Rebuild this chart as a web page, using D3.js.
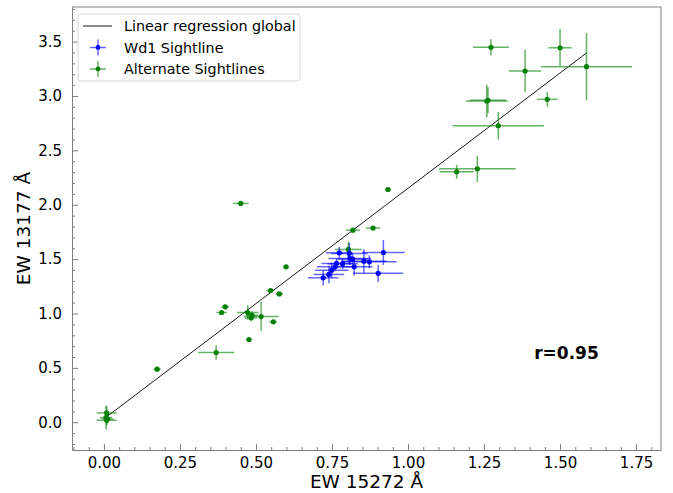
<!DOCTYPE html>
<html>
<head>
<meta charset="utf-8">
<script src="https://cdn.jsdelivr.net/npm/d3@7"></script>
<style>
  body { margin: 0; background: #fff; }
  text { font-family: "DejaVu Sans", sans-serif; }
</style>
</head>
<body>
<div id="chart-area"></div>
<script>
// Wd1 sightline (blue)
const wdX = [0.774, 0.807, 0.809, 0.818, 0.785, 0.919, 0.855, 0.873, 0.823, 0.902, 0.765, 0.760, 0.749, 0.740, 0.721]
const wdY = [1.558, 1.552, 1.506, 1.500, 1.457, 1.561, 1.481, 1.475, 1.429, 1.369, 1.460, 1.429, 1.398, 1.359, 1.328]
const wdXerr = [0.044, 0.06, 0.07, 0.05, 0.05, 0.07, 0.075, 0.09, 0.06, 0.082, 0.05, 0.06, 0.055, 0.05, 0.05]
const wdYerr = [0.055, 0.10, 0.06, 0.05, 0.05, 0.115, 0.11, 0.06, 0.08, 0.08, 0.05, 0.04, 0.07, 0.08, 0.07]

// alternate sightlines (green)
const altX = [0.009, 0.007, 0.009, 0.012, 0.175, 0.369, 0.387, 0.399, 0.450, 0.473, 0.487, 0.484, 0.517, 0.477, 0.548, 0.577,
    0.599, 0.557, 0.804, 0.819, 0.885, 0.934, 1.160, 1.228, 1.259, 1.263, 1.297, 1.273, 1.385, 1.458, 1.500, 1.587]
const altY = [0.086, 0.043, 0.018, 0.030, 0.488, 0.641, 1.009, 1.061, 2.012, 1.009, 0.984, 0.960, 0.972, 0.761, 1.211, 1.180,
    1.429, 0.923, 1.589, 1.766, 1.785, 2.140, 2.303, 2.330, 2.953, 2.960, 2.726, 3.447, 3.229, 2.969, 3.443, 3.269]
const altXerr = [0.033, 0.02, 0.033, 0.02, 0.012, 0.059, 0.017, 0.013, 0.026, 0.036, 0.02, 0.02, 0.058, 0.01, 0.013, 0.012,
    0.01, 0.013, 0.044, 0.023, 0.023, 0.01, 0.056, 0.126, 0.069, 0.06, 0.15, 0.059, 0.053, 0.034, 0.038, 0.15]
const altYerr = [0.06, 0.11, 0.05, 0.04, 0.015, 0.066, 0.02, 0.02, 0.02, 0.066, 0.04, 0.03, 0.134, 0.02, 0.015, 0.015,
    0.015, 0.015, 0.07, 0.015, 0.015, 0.015, 0.064, 0.12, 0.15, 0.12, 0.127, 0.075, 0.195, 0.067, 0.17, 0.31]

// global regression fit
const fitSlope = 2.12
const fitIntercept = 0.031
const rValue = 'r=0.95'

const xTicks = [0, 0.25, 0.5, 0.75, 1.0, 1.25, 1.5, 1.75]
const yTicks = [0, 0.5, 1.0, 1.5, 2.0, 2.5, 3.0, 3.5]

const canvas = { width: 673, height: 493 }
const margin = { left: 72, right: 12, top: 7, bottom: 43 }
const group = {
    width: canvas.width - margin.left - margin.right,
    height: canvas.height - margin.top - margin.bottom
}

const svg = d3.select('#chart-area')
    .append('svg')
    .attr('width', canvas.width)
    .attr('height', canvas.height)

const g = svg.append('g')
    .attr('transform', `translate(${margin.left},${margin.top})`)

const scaleX = d3.scaleLinear().domain([-0.105, 1.832]).range([0, group.width])
const scaleY = d3.scaleLinear().domain([-0.255, 3.818]).range([group.height, 0])

const spine = '#808080'

// minor ticks (inward)
const xMinor = d3.range(-0.1, 1.83, 0.05).filter(v => Math.abs(v / 0.25 - Math.round(v / 0.25)) > 0.01)
const yMinor = d3.range(-0.2, 3.81, 0.1).filter(v => Math.abs(v / 0.5 - Math.round(v / 0.5)) > 0.01)

g.append('g')
    .attr('transform', `translate(0,${group.height})`)
    .call(d3.axisBottom(scaleX).tickValues(xTicks).tickFormat(d3.format('.2f')).tickSizeInner(-6).tickSizeOuter(0).tickPadding(7))
g.append('g')
    .attr('transform', `translate(0,${group.height})`)
    .call(d3.axisBottom(scaleX).tickValues(xMinor).tickFormat('').tickSizeInner(-3).tickSizeOuter(0))
    .select('.domain').remove()

g.append('g')
    .call(d3.axisLeft(scaleY).tickValues(yTicks).tickFormat(d3.format('.1f')).tickSizeInner(-6).tickSizeOuter(0).tickPadding(10))
g.append('g')
    .call(d3.axisLeft(scaleY).tickValues(yMinor).tickFormat('').tickSizeInner(-3).tickSizeOuter(0))
    .select('.domain').remove()

g.selectAll('.tick line').attr('stroke', spine)
g.selectAll('.tick text').attr('font-size', 15).attr('fill', '#000')
g.selectAll('.domain').attr('stroke', spine)

// top/right spines
g.append('line').attr('x1', 0).attr('x2', group.width).attr('y1', 0).attr('y2', 0).attr('stroke', spine)
g.append('line').attr('x1', group.width).attr('x2', group.width).attr('y1', 0).attr('y2', group.height).attr('stroke', spine)

// regression line
const fitX = d3.extent(altX)
g.append('line')
    .attr('x1', scaleX(fitX[0])).attr('y1', scaleY(fitSlope * fitX[0] + fitIntercept))
    .attr('x2', scaleX(fitX[1])).attr('y2', scaleY(fitSlope * fitX[1] + fitIntercept))
    .attr('stroke', '#000').attr('stroke-width', 0.9)

function errorbars(xs, ys, xe, ye, color) {
    const pts = xs.map((x, i) => ({ x, y: ys[i], xe: xe[i], ye: ye[i] }))
    const eg = g.append('g').attr('stroke', color).attr('stroke-width', 1.5).attr('stroke-opacity', 0.6)
    eg.selectAll('.hx').data(pts).enter().append('line')
        .attr('x1', d => scaleX(d.x - d.xe)).attr('x2', d => scaleX(d.x + d.xe))
        .attr('y1', d => scaleY(d.y)).attr('y2', d => scaleY(d.y))
    eg.selectAll('.vy').data(pts).enter().append('line')
        .attr('x1', d => scaleX(d.x)).attr('x2', d => scaleX(d.x))
        .attr('y1', d => scaleY(d.y - d.ye)).attr('y2', d => scaleY(d.y + d.ye))
    g.append('g').selectAll('circle').data(pts).enter().append('circle')
        .attr('cx', d => scaleX(d.x)).attr('cy', d => scaleY(d.y))
        .attr('r', 2.6).attr('fill', color)
}

errorbars(altX, altY, altXerr, altYerr, 'green')
errorbars(wdX, wdY, wdXerr, wdYerr, 'blue')

// r value
g.append('text')
    .attr('x', scaleX(1.415)).attr('y', scaleY(0.58))
    .attr('font-size', 17).attr('font-weight', 'bold')
    .text(rValue)

// axis labels
svg.append('text')
    .attr('x', margin.left + group.width / 2).attr('y', 488)
    .attr('text-anchor', 'middle').attr('font-size', 18.5)
    .text('EW 15272 Å')
svg.append('text')
    .attr('transform', `translate(30,${margin.top + group.height / 2}) rotate(-90)`)
    .attr('text-anchor', 'middle').attr('font-size', 18.5)
    .text('EW 13177 Å')

// legend
const legend = g.append('g').attr('transform', 'translate(6,7)')
legend.append('rect')
    .attr('width', 222).attr('height', 67).attr('rx', 3)
    .attr('fill', '#fff').attr('fill-opacity', 0.8).attr('stroke', '#d8d8d8')
const items = [
    { label: 'Linear regression global', kind: 'line', color: '#000' },
    { label: 'Wd1 Sightline', kind: 'err', color: 'blue' },
    { label: 'Alternate Sightlines', kind: 'err', color: 'green' }
]
items.forEach((it, i) => {
    const y = 12 + i * 21.5
    if (it.kind === 'line') {
        legend.append('line').attr('x1', 5).attr('x2', 34).attr('y1', y).attr('y2', y)
            .attr('stroke', it.color).attr('stroke-width', 0.9)
    } else {
        legend.append('line').attr('x1', 12).attr('x2', 28).attr('y1', y).attr('y2', y)
            .attr('stroke', it.color).attr('stroke-width', 1.5).attr('stroke-opacity', 0.6)
        legend.append('line').attr('x1', 20).attr('x2', 20).attr('y1', y - 8).attr('y2', y + 8)
            .attr('stroke', it.color).attr('stroke-width', 1.5).attr('stroke-opacity', 0.6)
        legend.append('circle').attr('cx', 20).attr('cy', y).attr('r', 2.4).attr('fill', it.color)
    }
    legend.append('text').attr('x', 46).attr('y', y + 5).attr('font-size', 14.3).text(it.label)
})
</script>
</body>
</html>
